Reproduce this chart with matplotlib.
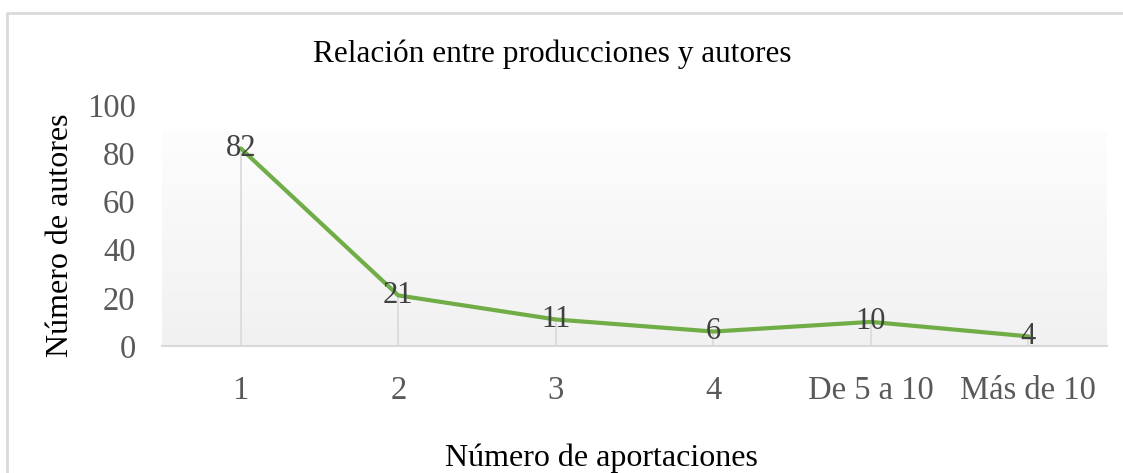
import numpy as np
import matplotlib.pyplot as plt
from matplotlib.colors import LinearSegmentedColormap
from matplotlib.lines import Line2D

categorias = ['1', '2', '3', '4', 'De 5 a 10', 'Más de 10']
autores = [82, 21, 11, 6, 10, 4]
yticks = [0, 20, 40, 60, 80, 100]

plt.rcParams['font.family'] = ['Liberation Serif', 'DejaVu Serif']

fig = plt.figure(figsize=(11.23, 4.73), dpi=100)
ax = fig.add_axes([162 / 1123, 1 - 346 / 473, (1107 - 162) / 1123, (346 - 105) / 473])

x = np.arange(len(categorias))

# fondo degradado del area de trazado (blanco arriba, gris claro abajo)
cmap = LinearSegmentedColormap.from_list('fondo', ['#f1f1f1', '#fdfdfd'])
grad = np.linspace(0, 1, 256).reshape(-1, 1)
ax.imshow(grad, extent=(-0.5, len(categorias) - 0.5, 0, 88.8), cmap=cmap,
          aspect='auto', zorder=0, origin='lower')

# lineas de caida
ax.vlines(x, 0, autores, color='#d9d9d9', lw=1.2, zorder=1)
ax.plot(x, autores, color='#70ad47', lw=3, zorder=3, solid_capstyle='round')

for xi, v in zip(x, autores):
    ax.text(xi, v, str(v), ha='center', va='center', fontsize=22,
            color='#404040', zorder=4)

ax.set_xlim(-0.5, len(categorias) - 0.5)
ax.set_ylim(0, 100)
ax.set_xticks(x)
ax.set_xticklabels(categorias)
ax.set_yticks(yticks)
ax.tick_params(axis='both', length=0, labelsize=23.5, labelcolor='#595959')
ax.tick_params(axis='x', pad=21)
ax.tick_params(axis='y', pad=19)
for s in ['top', 'right', 'left']:
    ax.spines[s].set_visible(False)
ax.spines['bottom'].set_color('#d9d9d9')
ax.spines['bottom'].set_linewidth(1.5)

fig.text(552 / 1123, 1 - 54 / 473, 'Relación entre producciones y autores',
         ha='center', va='center', fontsize=22.5, color='#000000')
fig.text(61 / 1123, 1 - 235 / 473, 'Número de autores', rotation=90,
         ha='center', va='center', fontsize=23, color='#000000')
fig.text(601 / 1123, 1 - 458 / 473, 'Número de aportaciones',
         ha='center', va='center', fontsize=23, color='#000000')

# borde del grafico (solo izquierda y arriba quedan dentro de la imagen)
fig.add_artist(Line2D([7 / 1123, 7 / 1123, 1.0], [0.0, 1 - 13 / 473, 1 - 13 / 473],
                      transform=fig.transFigure, color='#d9d9d9', lw=2))

fig.savefig('out.png', dpi=100)
